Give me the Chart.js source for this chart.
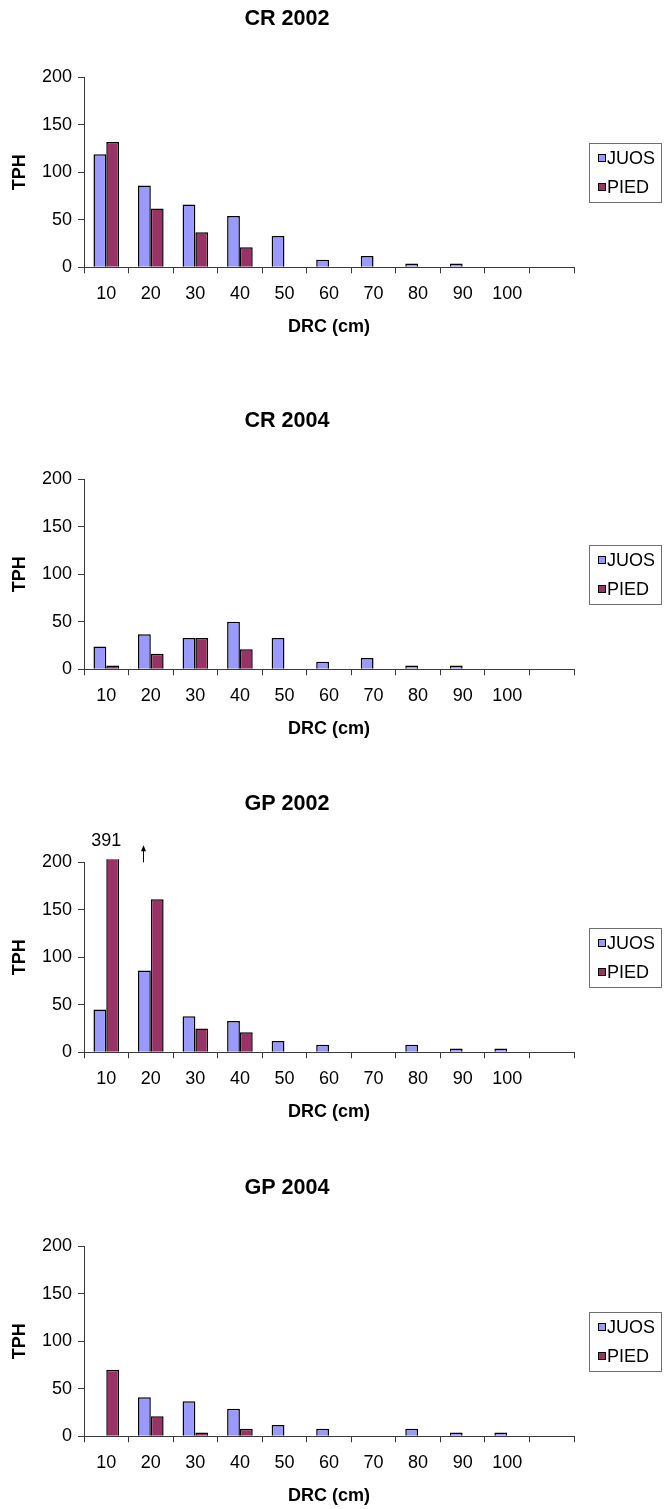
<!DOCTYPE html>
<html>
<head>
<meta charset="utf-8">
<script src="https://cdn.jsdelivr.net/npm/chart.js@4.4.1/dist/chart.umd.min.js"></script>
<style>
  html, body { margin: 0; padding: 0; background: #fff; width: 665px; height: 1509px; overflow: hidden; }
  .panel { position: absolute; left: 0; width: 665px; height: 340px; }
  canvas { display: block; }
</style>
</head>
<body>
<div class="panel" style="top:0px"><canvas id="cr2002" width="665" height="340"></canvas></div>
<div class="panel" style="top:402px"><canvas id="cr2004" width="665" height="340"></canvas></div>
<div class="panel" style="top:785px"><canvas id="gp2002" width="665" height="340"></canvas></div>
<div class="panel" style="top:1169px"><canvas id="gp2004" width="665" height="340"></canvas></div>
<script>
// Diameter classes (DRC, cm); the trailing empty class keeps the axis open on the right
const drcLabels = ['10', '20', '30', '40', '50', '60', '70', '80', '90', '100', ''];
const seriesNames = ['JUOS', 'PIED'];
const panelTitles = ['CR 2002', 'CR 2004', 'GP 2002', 'GP 2004'];
const yTicks = [0, 50, 100, 150, 200];

// Trees per hectare by diameter class
const juosCR2002 = [119, 86, 66, 54, 33, 8, 12, 4, 4, 0, null];
const piedCR2002 = [132, 62, 37, 21, 0, 0, 0, 0, 0, 0, null];
const juosCR2004 = [24, 37, 33, 50, 33, 8, 12, 4, 4, 0, null];
const piedCR2004 = [4, 16.5, 33, 21, 0, 0, 0, 0, 0, 0, null];
const juosGP2002 = [45, 86, 38, 33, 12, 8, 0, 8, 4, 4, null];
const piedGP2002 = [391, 161, 25, 21, 0, 0, 0, 0, 0, 0, null];
const juosGP2004 = [0, 41, 37, 29, 12, 8, 0, 8, 4, 4, null];
const piedGP2004 = [70, 21, 4, 8, 0, 0, 0, 0, 0, 0, null];

const FONT = '"Liberation Sans", Arial, Helvetica, sans-serif';
const AXIS = '#3a3a3a';
const COLORS = ['#9999FF', '#993366'];

// Legend drawn as a bordered box to the right of the plot
const boxedLegend = {
  id: 'boxedLegend',
  afterDraw(chart, args, opts) {
    const ctx = chart.ctx;
    const a = chart.chartArea;
    const cy = (a.top + a.bottom) / 2;
    const left = a.right + opts.gap;
    const rowGap = opts.rowGap;
    const n = chart.data.datasets.length;
    const h = n * rowGap + 1;
    const top = Math.round(cy - h / 2) + 0.5;
    ctx.save();
    ctx.strokeStyle = '#6f6f6f';
    ctx.lineWidth = 1;
    ctx.strokeRect(left, top, opts.width, h);
    ctx.font = '18px ' + FONT;
    ctx.textBaseline = 'middle';
    ctx.textAlign = 'left';
    chart.data.datasets.forEach((ds, i) => {
      const rowY = top + rowGap / 2 + i * rowGap;
      const bx = Math.round(left + 8) + 0.5;
      const by = Math.round(rowY - 4) + 0.5;
      ctx.fillStyle = ds.backgroundColor;
      ctx.fillRect(bx, by, 7, 7);
      ctx.strokeStyle = '#000';
      ctx.strokeRect(bx, by, 7, 7);
      ctx.fillStyle = '#000';
      ctx.fillText(ds.label, left + 17.5, rowY + 1);
    });
    ctx.restore();
  }
};

// Value label and arrow for a bar that runs past the top of the axis
const overflowNote = {
  id: 'overflowNote',
  afterDatasetsDraw(chart, args, opts) {
    const ctx = chart.ctx;
    const x = chart.scales.x;
    const a = chart.chartArea;
    const value = chart.data.datasets[opts.datasetIndex].data[opts.index];
    ctx.save();
    ctx.fillStyle = '#000';
    ctx.strokeStyle = '#000';
    ctx.font = '18px ' + FONT;
    ctx.textAlign = 'center';
    ctx.textBaseline = 'middle';
    ctx.fillText(String(value), x.getPixelForValue(opts.index), a.top - 21);
    const ax = Math.round(x.getPixelForValue(opts.index + opts.arrowShift)) + 0.5;
    const tipY = a.top - 17;
    ctx.lineWidth = 1;
    ctx.beginPath();
    ctx.moveTo(ax, a.top);
    ctx.lineTo(ax, tipY + 4);
    ctx.stroke();
    ctx.beginPath();
    ctx.moveTo(ax, tipY);
    ctx.lineTo(ax - 2.5, tipY + 6);
    ctx.lineTo(ax + 2.5, tipY + 6);
    ctx.closePath();
    ctx.fill();
    ctx.restore();
  }
};

function makePanel(id, title, juos, pied, note) {
  const barClip = { top: 3, left: false, right: false, bottom: false };
  return new Chart(document.getElementById(id), {
    type: 'bar',
    data: {
      labels: drcLabels,
      datasets: [
        { label: seriesNames[0], data: juos, backgroundColor: COLORS[0], borderColor: '#000', borderWidth: 1.5, clip: barClip },
        { label: seriesNames[1], data: pied, backgroundColor: COLORS[1], borderColor: '#000', borderWidth: 1.5, clip: barClip }
      ]
    },
    options: {
      responsive: false,
      animation: false,
      devicePixelRatio: 1,
      layout: { padding: { left: 0, right: 91, top: 0, bottom: 0 } },
      datasets: { bar: { categoryPercentage: 0.575, barPercentage: 1 } },
      plugins: {
        legend: { display: false },
        tooltip: { enabled: false },
        title: {
          display: true, text: title, color: '#000',
          font: { family: FONT, size: 21.6, weight: 'bold', lineHeight: 1.2 },
          padding: { top: 6.5, bottom: 44.9 }
        },
        boxedLegend: { gap: 15.5, width: 72, rowGap: 29 },
        overflowNote: note
      },
      scales: {
        x: {
          grid: { offset: true, drawOnChartArea: false, drawTicks: true, tickLength: 6, color: AXIS },
          border: { display: true, color: AXIS, width: 1 },
          ticks: { color: '#000', font: { family: FONT, size: 18 }, padding: 10, maxRotation: 0, autoSkip: false },
          title: {
            display: true, text: 'DRC (cm)', color: '#000',
            font: { family: FONT, size: 18, weight: 'bold', lineHeight: 1.2 },
            padding: { top: 0, bottom: 1.7 }
          },
          afterFit(scale) { scale.height = 72.7; }
        },
        y: {
          min: yTicks[0], max: yTicks[yTicks.length - 1],
          afterBuildTicks(scale) { scale.ticks = yTicks.map(v => ({ value: v })); },
          grid: { drawOnChartArea: false, drawTicks: true, tickLength: 6, color: AXIS },
          border: { display: true, color: AXIS, width: 1 },
          ticks: { color: '#000', font: { family: FONT, size: 18 }, padding: 6 },
          title: {
            display: true, text: 'TPH', color: '#000',
            font: { family: FONT, size: 18, weight: 'bold', lineHeight: 1.2 },
            padding: { top: 9.2, bottom: 0 }
          },
          afterFit(scale) { scale.width = 84; }
        }
      }
    },
    plugins: [boxedLegend, overflowNote]
  });
}

makePanel('cr2002', panelTitles[0], juosCR2002, piedCR2002, false);
makePanel('cr2004', panelTitles[1], juosCR2004, piedCR2004, false);
makePanel('gp2002', panelTitles[2], juosGP2002, piedGP2002, { datasetIndex: 1, index: 0, arrowShift: 0.82 });
makePanel('gp2004', panelTitles[3], juosGP2004, piedGP2004, false);
</script>
</body>
</html>
